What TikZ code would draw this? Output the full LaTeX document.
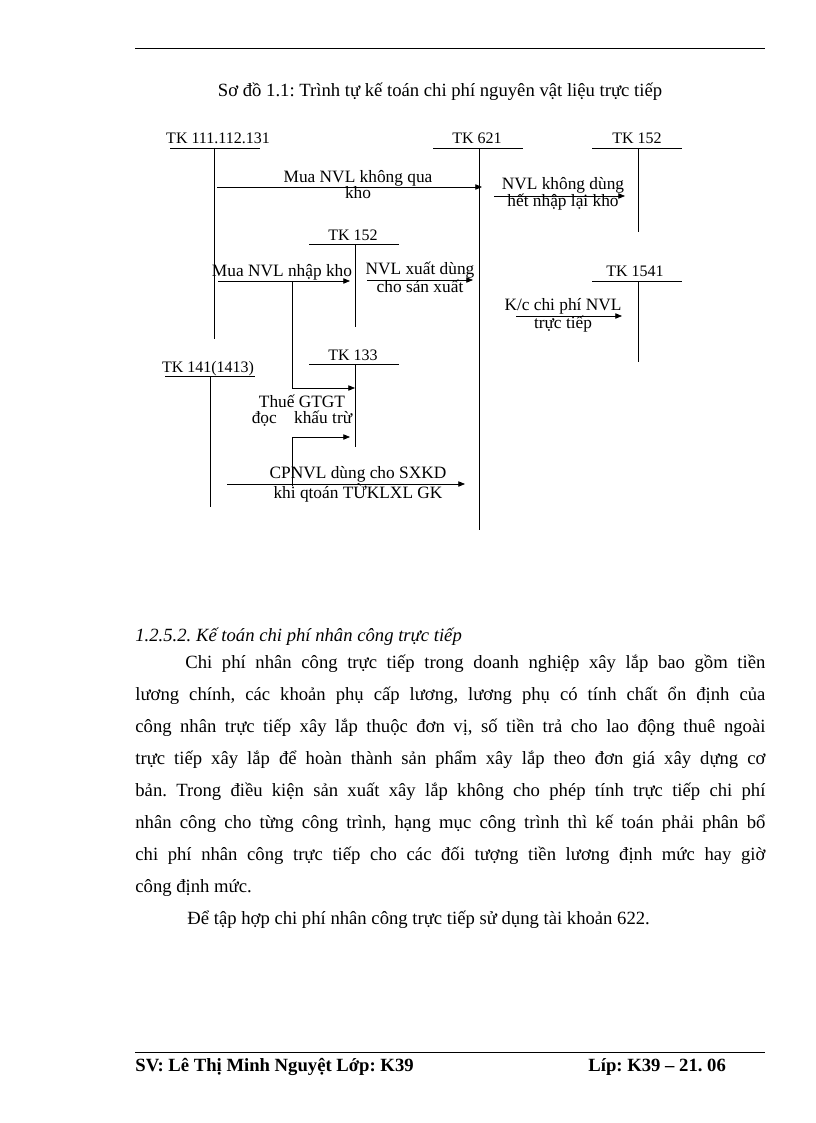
\documentclass[tikz,border=0pt]{standalone}
\usepackage{fontspec}
\setmainfont{Liberation Serif}
\usetikzlibrary{arrows.meta}
\frenchspacing

\tikzset{
  acc/.style={font=\fontsize{12}{12}\selectfont, anchor=base, inner sep=0pt},
  lbl/.style={font=\fontsize{13}{12}\selectfont, align=center, anchor=base, inner sep=0pt},
  flow/.style={-{Triangle[length=5pt,width=4pt]}},
  body/.style={font=\fontsize{14}{24}\selectfont, anchor=base west, inner sep=0pt},
}

\begin{document}
\begin{tikzpicture}[x=0.75pt,y=-0.75pt,line width=0.6pt]
  \useasboundingbox[fill=white] (0,0) rectangle (816,1123);

  % header and footer
  \draw (135,48) -- (765,48);
  \draw (135,1052) -- (765,1052);
  \node (title) [body, anchor=base, font=\fontsize{14}{14}\selectfont] at (440,97) {Sơ đồ 1.1: Trình tự kế toán chi phí nguyên vật liệu trực tiếp};

  % accounts
  \node (tk111) [acc] at (218,144) {TK 111.112.131};
  \node (tk621) [acc] at (477,144) {TK 621};
  \node (tk152a) [acc] at (637,144) {TK 152};
  \node (tk152b) [acc] at (353,240) {TK 152};
  \node (tk1541) [acc] at (635,276) {TK 1541};
  \node (tk133) [acc] at (353,360) {TK 133};
  \node (tk141) [acc] at (208,372) {TK 141(1413)};

  \draw (170,148) -- (260,148) (214,148) -- (214,339);
  \draw (433,148) -- (523,148) (479,148) -- (479,530);
  \draw (592,148) -- (682,148) (638,148) -- (638,232);
  \draw (309,244) -- (399,244) (355,244) -- (355,327);
  \draw (592,281) -- (682,281) (638,281) -- (638,362);
  \draw (309,364) -- (399,364) (355,364) -- (355,447);
  \draw (165,376) -- (255,376) (210,376) -- (210,507);

  % end points
  \coordinate (a1) at (217,187);
  \coordinate (b1) at (482,187);
  \coordinate (a2) at (494,196);
  \coordinate (b2) at (625,196);
  \coordinate (a3) at (218,281);
  \coordinate (b3) at (350,281);
  \coordinate (a4) at (367,280);
  \coordinate (b4) at (473,280);
  \coordinate (a5) at (516,316);
  \coordinate (b5) at (622,316);
  \coordinate (a6) at (292,281);
  \coordinate (b6) at (355,388);
  \coordinate (a7) at (292,486);
  \coordinate (b7) at (350,437);
  \coordinate (a8) at (227,484);
  \coordinate (b8) at (465,484);

  \draw[flow] (a1) -- (b1);
  \draw[flow] (a2) -- (b2);
  \draw[flow] (a3) -- (b3);
  \draw[flow] (a4) -- (b4);
  \draw[flow] (a5) -- (b5);
  \draw[flow] (a6) |- (b6);
  \draw[flow] (a7) |- (b7);
  \draw[flow] (a8) -- (b8);

  % labels (base = last line)
  \node (l1) [lbl] at (358,199) {Mua NVL không qua\\kho};
  \node (l2) [lbl] at (563,207) {NVL không dùng\\hết nhập lại kho};
  \node (l3) [lbl] at (282,276) {Mua NVL nhập kho};
  \node (l4) [lbl] at (420,292) {NVL xuất dùng\\cho sản xuất};
  \node (l5) [lbl] at (563,328) {K/c chi phí NVL\\trực tiếp};
  \node (l6) [lbl] at (302,423) {Thuế GTGT\\đọc\quad khấu trừ};
  \node (l7) [lbl] at (358,498) {CPNVL dùng cho SXKD\\khi qtoán TỪKLXL GK};

  % text
  \node (head) [body, font=\fontsize{14}{24}\selectfont\itshape] at (135,641) {1.2.5.2. Kế toán chi phí nhân công trực tiếp};
  \node (para) [body, text width=472.5pt, align=justify] at (135,668) {\hspace*{37.5pt}Chi phí nhân công trực tiếp trong doanh nghiệp xây lắp bao gồm tiền\linebreak
    lương chính, các khoản phụ cấp lương, lương phụ có tính chất ổn định của\linebreak
    công nhân trực tiếp xây lắp thuộc đơn vị, số tiền trả cho lao động thuê ngoài\linebreak
    trực tiếp xây lắp để hoàn thành sản phẩm xây lắp theo đơn giá xây dựng cơ\linebreak
    bản. Trong điều kiện sản xuất xây lắp không cho phép tính trực tiếp chi phí\linebreak
    nhân công cho từng công trình, hạng mục công trình thì kế toán phải phân bổ\linebreak
    chi phí nhân công trực tiếp cho các đối tượng tiền lương định mức hay giờ\linebreak
    công định mức.\par
    \hspace*{39pt}Để tập hợp chi phí nhân công trực tiếp sử dụng tài khoản 622.};

  \node (sv) [body, font=\fontsize{14}{14}\selectfont\bfseries] at (135,1071) {SV: Lê Thị Minh Nguyệt Lớp: K39};
  \node (lop) [body, font=\fontsize{14}{14}\selectfont\bfseries] at (588,1071) {Líp: K39 – 21. 06};
\end{tikzpicture}
\end{document}
